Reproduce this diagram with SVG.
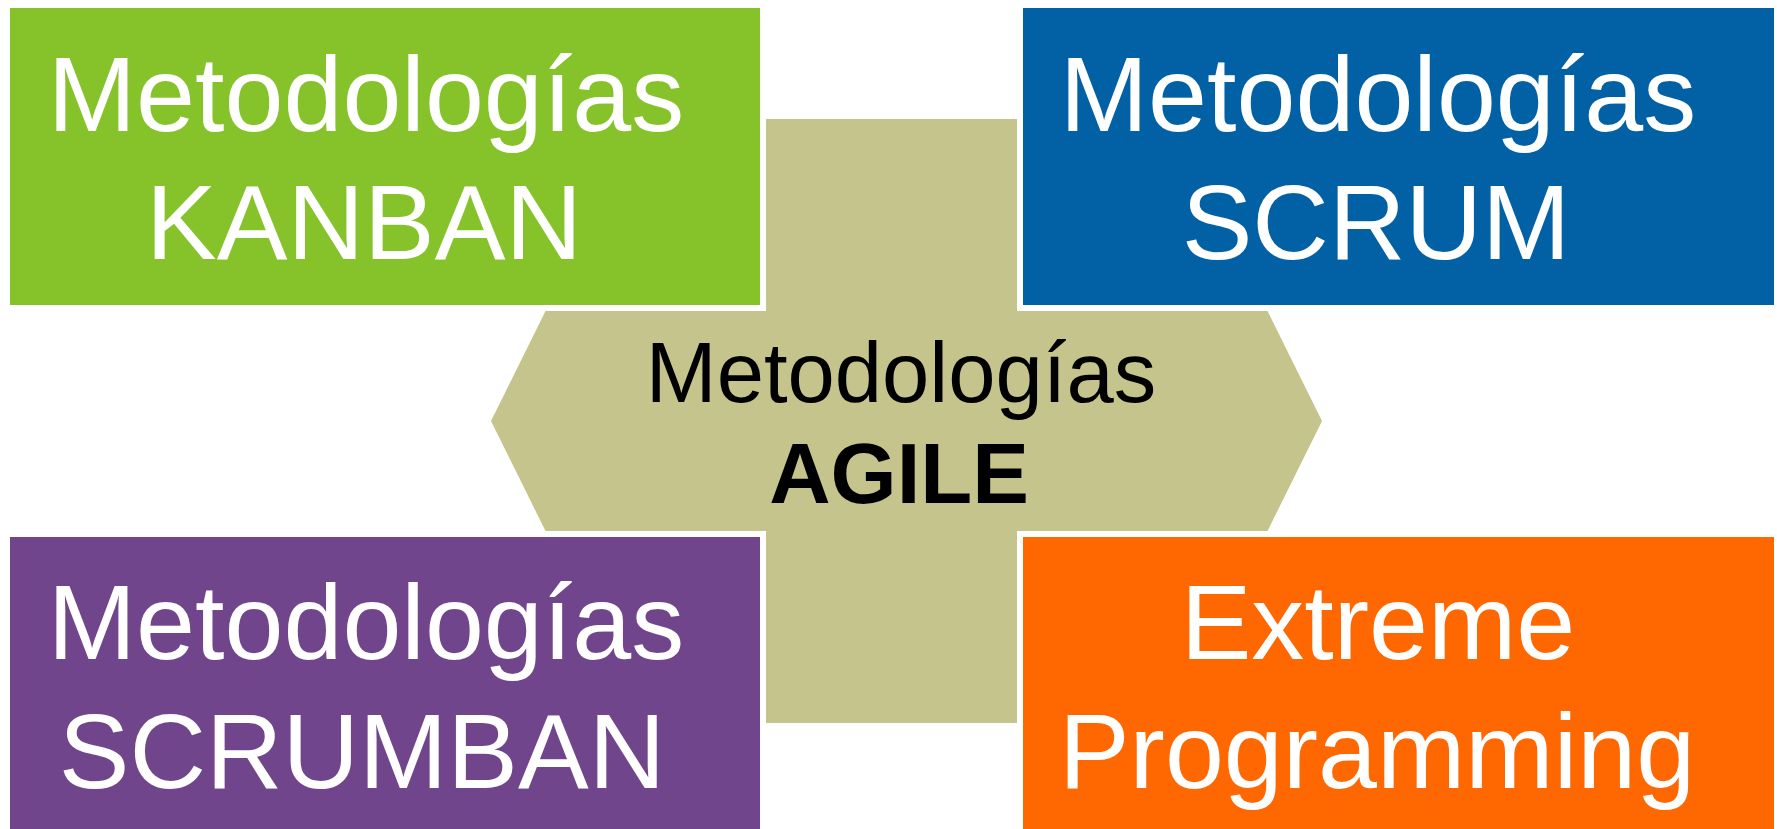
<svg xmlns="http://www.w3.org/2000/svg" width="1777" height="829" viewBox="0 0 1777 829">
<style>
.halo{fill:#ffffff}
.big{font-family:"Liberation Sans",Arial,sans-serif;font-size:106px;fill:#ffffff;text-anchor:middle}
.mid{font-family:"Liberation Sans",Arial,sans-serif;font-size:85px;fill:#000000;text-anchor:middle}
.bold{font-weight:bold}
</style>
<rect width="1777" height="829" fill="#ffffff"/>
<g id="agile">
<polygon fill="#C4C48C" points="766,119 1018,119 1018,310 1267,310 1322,421 1267,532 1018,532 1018,723 766,723 766,532 546,532 491,421 546,310 766,310"/>
<text class="mid" x="901" y="402">Metodologías</text>
<text class="mid bold" x="899" y="503">AGILE</text>
</g>
<g id="kanban">
<rect class="halo" x="4" y="2" width="762" height="309"/>
<rect x="10" y="8" width="750" height="297" fill="#86C32A"/>
<text class="big" x="366" y="131">Metodologías</text>
<text class="big" x="364" y="259">KANBAN</text>
</g>
<g id="scrum">
<rect class="halo" x="1017" y="2" width="763" height="309"/>
<rect x="1023" y="8" width="751" height="297" fill="#0261A5"/>
<text class="big" x="1378" y="131">Metodologías</text>
<text class="big" x="1376" y="259">SCRUM</text>
</g>
<g id="scrumban">
<rect class="halo" x="4" y="531" width="762" height="309"/>
<rect x="10" y="537" width="750" height="297" fill="#71458B"/>
<text class="big" x="366" y="659">Metodologías</text>
<text class="big" x="362" y="788">SCRUMBAN</text>
</g>
<g id="xp">
<rect class="halo" x="1017" y="531" width="763" height="309"/>
<rect x="1023" y="537" width="751" height="297" fill="#FF6700"/>
<text class="big" x="1378" y="659">Extreme</text>
<text class="big" x="1377" y="788">Programming</text>
</g>
<g id="connectors"/>
</svg>
